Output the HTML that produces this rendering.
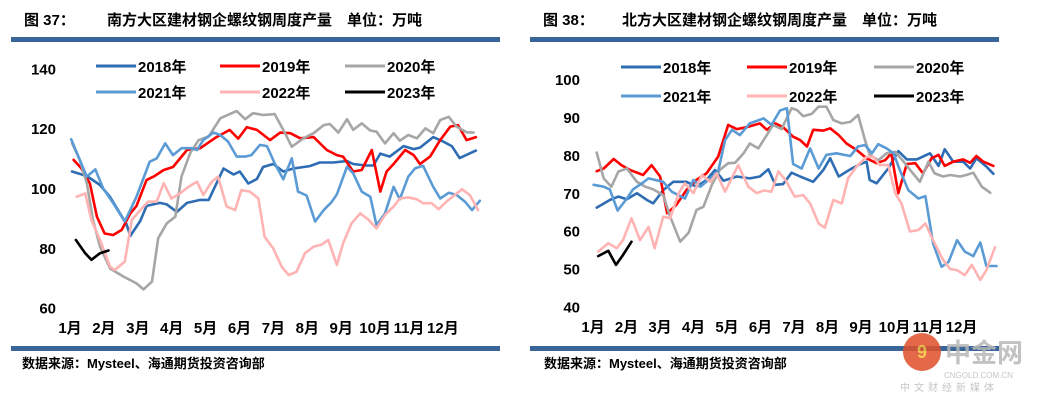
<!DOCTYPE html>
<html><head><meta charset="utf-8"><style>
body{margin:0;background:#fff;}
svg{display:block;font-family:"Liberation Sans","Noto Sans CJK SC",sans-serif;}
.t{font-weight:bold;font-size:15px;fill:#000;}
.ax{font-weight:bold;font-size:15px;fill:#000;}
.lg{font-weight:bold;font-size:15px;fill:#000;}
.ft{font-weight:bold;font-size:13px;fill:#000;}
</style></head><body>
<svg id="root" width="1055" height="402" viewBox="0 0 1055 402">
<rect x="0" y="0" width="1055" height="402" fill="#fff"/>
<text class="t" x="24" y="25">图 37：</text>
<text class="t" x="107" y="25">南方大区建材钢企螺纹钢周度产量　单位：万吨</text>
<rect x="11" y="37" width="489" height="5" fill="#3a6598"/>
<text class="t" x="543" y="25">图 38：</text>
<text class="t" x="622" y="25">北方大区建材钢企螺纹钢周度产量　单位：万吨</text>
<rect x="530" y="37" width="469" height="5" fill="#3a6598"/>
<rect x="11" y="346" width="489" height="5" fill="#3a6598"/>
<rect x="530" y="346" width="469" height="5" fill="#3a6598"/>
<text class="ft" x="22" y="368">数据来源：Mysteel、海通期货投资咨询部</text>
<text class="ft" x="544" y="368">数据来源：Mysteel、海通期货投资咨询部</text>
<g opacity="0.85">
<circle cx="922" cy="352" r="19" fill="#e0502a"/>
<text x="922" y="358" text-anchor="middle" font-size="18" font-weight="bold" fill="#f6c23a">9</text>
<text x="945" y="362" font-size="26" font-weight="bold" fill="#b8b8b8">中金网</text>
<text x="944" y="378" font-size="8" fill="#bbb">CNGOLD.COM.CN</text>
<text x="900" y="391" font-size="10" fill="#bbb" letter-spacing="4">中文财经新媒体</text>
</g>
<g id="left"></g>
<g id="right"></g>
</svg>
<script>
const seriesNames=["2018年","2019年","2020年","2021年","2022年","2023年"];
const seriesColors=["#2e6db4","#ff0000","#a6a6a6","#5b9bd5","#ffb3b3","#000000"];
const monthLabels=["1月","2月","3月","4月","5月","6月","7月","8月","9月","10月","11月","12月"];
const leftTicks=[60,80,100,120,140];
const rightTicks=[40,50,60,70,80,90,100];
// South (left) series: [week, value]
const south2018=[[1,105.5],[2.9,104],[4.6,101],[5.9,97],[8,88],[8.5,84],[9.8,89],[10.6,94],[12.3,95],[13.2,94.5],[14.5,92],[15.8,95],[17.5,96],[18.6,96],[20.5,106.5],[21.8,104.5],[22.6,105.5],[23.7,101.5],[24.8,103],[25.6,107],[26.9,108],[28.2,105.5],[29.5,106.5],[31.6,107.3],[32.9,108.5],[34.6,108.5],[36.4,109],[37.2,108],[38.9,107.5],[39.8,107.5],[40.7,111.5],[41.9,110.5],[43.7,114],[45,113],[45.8,113.5],[47.5,117],[48.8,115.5],[49.9,114],[50.9,110],[53,112.5]];
const south2019=[[1.2,109.4],[2.2,106.6],[3.3,101.5],[4.2,90.4],[5.2,84.8],[6.3,84.3],[7.4,86],[8.5,91.5],[9.3,94],[10.6,102.7],[11.5,103.8],[12.8,106],[14,107],[15.8,112.7],[17.5,113.3],[19.6,117],[21.3,119.4],[22.4,116.5],[23.5,120.3],[24.8,119.4],[26.5,116],[27.8,118.5],[29.1,118.3],[30.4,116.6],[32.1,117],[33.8,112.7],[35.1,111],[35.9,110.5],[37.2,105.5],[38.3,106],[39.6,112.7],[40.7,98.8],[41.5,105.5],[42.4,108],[43.9,112.7],[45,111],[45.8,108],[47.1,110.5],[48.4,116],[49.7,120.5],[50.7,121],[51.8,116],[53,117]];
const south2020=[[1,115],[2,109.4],[2.9,101.6],[3.7,89.3],[4.6,80.4],[5.9,73.1],[7.6,70.4],[9.3,68.1],[10.2,66.1],[11.3,68.7],[12.1,83.2],[13.2,88.2],[14.3,90.4],[15.1,103.8],[16.2,111.6],[17.3,116],[18.6,117.2],[20.1,123.3],[21.3,124.7],[22.2,125.7],[23.3,123],[24.3,125],[25.6,124.4],[27.1,124.7],[28.2,119.4],[29.3,113.8],[30.8,116.6],[32.1,118.3],[33.4,121],[34.2,121.4],[35.3,118.5],[36.4,123],[37.2,119.4],[38.3,121.6],[39.4,119.2],[40.2,118.8],[41.3,114.9],[42.4,118.3],[43.2,115.8],[44.3,117.7],[45.4,116.6],[46.5,119.9],[47.5,118.3],[48.4,122.7],[49.5,123.8],[50.5,120.5],[51.8,118.6],[52.7,118.5]];
const south2021=[[0.9,116.3],[2,109.4],[2.9,103.8],[4,106.2],[5,99.9],[6.3,94.9],[7.8,88.8],[9.3,97.1],[11,108.8],[11.9,109.9],[13,114.9],[14,111],[15.1,113.3],[16.4,113.3],[17.1,112.7],[17.9,116],[19.2,118.5],[20.1,117.7],[21.1,115.5],[22.2,110.5],[23.3,110.5],[24.1,111],[25.2,114.4],[26.1,114],[27.1,108.2],[28.2,102.9],[29.3,109.9],[30.1,98.8],[31.2,97.5],[32.3,88.8],[33.4,92.6],[34.4,95.2],[35.1,97.9],[36.4,107.1],[37.2,104.9],[38.3,98.8],[39.4,97.1],[40.2,87.6],[41.3,91.5],[42.4,100.4],[43.2,96.2],[44.3,103.8],[45.2,106.6],[46.2,107.4],[47.5,100.4],[48.4,96.5],[49.5,98.4],[50.5,97.7],[51.6,95.4],[52.5,92.6],[53.5,95.7]];
const south2022=[[1.6,97.1],[2.7,98.2],[3.5,89.3],[4.6,82.6],[5.9,73.7],[6.5,72.6],[7.8,75.4],[8.7,89.3],[9.8,92.6],[10.8,95.4],[11.9,95.4],[12.8,101.6],[13.8,96.5],[14.9,98.2],[16,100.4],[17.1,102.1],[17.9,97.7],[19,102.1],[19.8,103.8],[20.9,93.8],[22,92.6],[22.8,99.3],[23.9,98.8],[25,96.5],[25.8,83.7],[26.9,79.8],[28,73.7],[28.9,70.9],[29.9,72],[31,78.2],[32.1,80.4],[33.1,81],[34,82.6],[35.1,74.3],[35.9,81.5],[37,88.2],[38.1,91.5],[39.2,89.3],[40.2,86.5],[41.3,91],[42.4,93.8],[43.2,96.5],[44.3,96.9],[45.4,96.2],[46.2,94.9],[47.3,94.9],[48.2,92.9],[49.2,95.4],[50.3,97.7],[51.2,99.6],[52.2,97.7],[53.3,92.6]];
const south2023=[[1.5,82.6],[2.7,78.2],[3.5,76],[4.6,78.2],[5.7,79.1]];
// North (right) series
const north2018=[[1,66.1],[2.7,68.1],[3.8,69],[4.9,68.3],[6.2,69.9],[7.5,68.1],[8.3,67.2],[9.6,70.7],[10.9,72.9],[12.6,72.9],[13.9,71.6],[15.2,73.4],[16.3,76],[17.4,73.2],[19.1,74.3],[20.8,73.8],[22.1,74.3],[23.2,76.2],[24.1,72.1],[25.1,72.3],[26.2,75.3],[27.3,74.3],[29,72.9],[30.3,76],[31.2,79.1],[32.3,74.3],[33.8,76.2],[35.1,77.6],[35.9,78.2],[36.3,73.4],[37.2,72.5],[38.7,76.4],[40,81],[41.1,78.8],[42.4,78.8],[44.1,80.4],[45.2,77.1],[46,81.5],[47.1,78.2],[48.4,78.2],[49.3,76.4],[50.1,79.1],[51.4,76.9],[52.3,75]];
const north2019=[[1,75.7],[1.9,76.4],[3.2,78.9],[4.2,77.3],[5.3,76],[7,74.7],[8.1,77.3],[9.2,74.3],[10.1,64.6],[11.3,66.8],[12.6,70.7],[13.9,73.4],[15.2,75.1],[16.7,79.5],[18,87.9],[19.1,86.8],[20.4,87.3],[22.1,88.3],[23,86.6],[24.1,88.3],[25.1,87.3],[26.4,84.8],[27.3,83.9],[28.2,82.2],[29,86.6],[30.3,86.4],[31.2,87],[32.3,85.2],[33.3,83],[34.6,81.3],[35.9,79.1],[37.2,77.8],[38.3,78.6],[39.1,80.4],[40,69.9],[41.1,77.6],[42.2,77.8],[43.2,75.1],[44.3,79.1],[45.2,80],[46,77.1],[47.1,78.2],[48.4,78.8],[49.3,77.9],[50.1,79.7],[51,78.2],[52.3,77.1]];
const north2020=[[1,80.6],[1.9,73.8],[2.9,71.6],[3.8,75.6],[4.9,76.4],[6.2,72.9],[7.3,71.6],[8.3,70.9],[9.6,69.4],[10.5,63.7],[11.8,57.1],[12.9,59.5],[13.9,65.5],[14.8,66.3],[15.9,72.1],[16.9,76],[18,77.8],[18.9,77.9],[20,80.4],[20.8,83],[21.9,81.7],[23,85.2],[23.8,87.9],[24.9,86.8],[26.2,92.3],[26.9,91.8],[27.7,90.2],[28.8,90.8],[29.7,92.7],[30.7,92.7],[31.6,89.2],[32.7,88.3],[33.8,88.7],[34.8,90.5],[35.7,83.9],[36.3,80],[37.4,78.6],[38.5,80.4],[39.6,80.8],[40.7,78.2],[41.7,75.6],[42.8,72.9],[43.9,78.2],[44.7,75.1],[45.8,74.3],[46.7,74.7],[48,74.3],[48.8,74.7],[49.7,75.3],[50.8,71.6],[51.9,70]];
const north2021=[[0.6,72.1],[1.9,71.6],[2.7,70.9],[3.7,65.3],[4.9,68.5],[5.7,70.9],[7,72.7],[7.7,73.8],[9.6,72.9],[10.7,70.3],[12.4,68.5],[13.5,73.4],[14.4,71.6],[15.7,73.8],[16.7,75.6],[17.6,83.9],[18.5,86.6],[19.5,85.2],[20.8,88.3],[22.6,89.6],[23.6,87.9],[24.7,91.7],[25.6,92.3],[26.4,77.6],[27.5,76.4],[28.6,81.7],[29.7,76.4],[30.7,80],[32,80.4],[33.8,79.7],[34.8,82.2],[35.7,82.6],[36.6,80.4],[37.4,82.8],[38.5,81.7],[39.4,80.4],[40.2,76],[41.3,70.7],[42.6,68.5],[43.5,69.1],[44.5,56.6],[45.6,50.5],[46.5,51.8],[47.6,57.5],[48.6,54.5],[49.7,53.3],[50.6,56.9],[51.4,50.7],[52.7,50.7]];
const north2022=[[1.2,54.5],[2.5,56.7],[3.6,55.4],[4.4,57.5],[5.5,63.3],[6.6,57.5],[7.7,61],[8.5,55.4],[9.6,63.7],[10.5,63.3],[11.6,69.9],[12.4,72.5],[13.5,69.9],[14.6,74.7],[15.7,72.9],[16.5,75.1],[17.6,70.3],[19.3,77.3],[20.6,71.6],[21.7,69.9],[22.6,70.6],[23.6,70.3],[24.5,75.6],[25.4,73.4],[26.6,69],[27.7,69.4],[28.6,67.2],[29.7,61.9],[30.5,60.8],[31.6,68.1],[32.7,67.2],[33.5,73.8],[34.6,76.9],[35.9,79.5],[36.8,79.4],[37.6,77.3],[38.7,77.3],[39.6,69.9],[40.4,67.2],[41.5,59.8],[42.6,60.2],[43.5,61.9],[44.5,57.5],[45.8,52.3],[46.7,49.9],[47.6,49.6],[48.6,48.3],[49.5,51],[50.6,47],[51.4,49.6],[52.5,55.6]];
const north2023=[[1.2,53.3],[2.5,54.7],[3.5,51],[4.4,53.6],[5.5,57.1]];

const NS="http://www.w3.org/2000/svg";
function mk(tag,attrs,parent){const e=document.createElementNS(NS,tag);for(const k in attrs)e.setAttribute(k,attrs[k]);parent.appendChild(e);return e;}

function drawChart(gid,prefix,cfg,series,ticks){
  const g=document.getElementById(gid);
  const xs=w=>cfg.x0+(w-1)*cfg.dx;
  const ys=v=>cfg.yTop+(cfg.vTop-v)*cfg.dy;
  ticks.forEach(t=>{
    const e=mk('text',{x:cfg.tickX,y:ys(t)+6,'text-anchor':'end',class:'ax'},g);
    e.textContent=t;
    
    
  });
  monthLabels.forEach((m,i)=>{
    const e=mk('text',{x:cfg.m0+i*cfg.mdx,y:cfg.my,'text-anchor':'middle',class:'ax'},g);
    e.textContent=m;
    
    
  });
  series.forEach((s,i)=>{
    const d=s.map((p,j)=>(j?'L':'M')+xs(p[0]).toFixed(1)+' '+ys(p[1]).toFixed(1)).join(' ');
    const p=mk('path',{d:d,fill:'none',stroke:seriesColors[i],'stroke-width':2.6,'stroke-linejoin':'round','stroke-linecap':'round'},g);
    
    
  });
  seriesNames.forEach((n,i)=>{
    const col=i%3,row=Math.floor(i/3);
    const lx=cfg.lgX[col],ly=cfg.lgY[row];
    const l=mk('line',{x1:lx,x2:lx+40,y1:ly,y2:ly,stroke:seriesColors[i],'stroke-width':3},g);
    
    
    const t=mk('text',{x:lx+42,y:ly+6,class:'lg'},g);
    t.textContent=n;
    
    
  });
}
drawChart('left','south',{x0:72,dx:7.767,yTop:68.3,vTop:140,dy:2.992,tickX:56,m0:70,mdx:33.9,my:333,lgX:[96,220,345],lgY:[66,92]},
  [south2018,south2019,south2020,south2021,south2022,south2023],leftTicks);
drawChart('right','north',{x0:596.7,dx:7.733,yTop:79,vTop:100,dy:3.793,tickX:580,m0:593,mdx:33.5,my:332,lgX:[621,747,874],lgY:[67,96]},
  [north2018,north2019,north2020,north2021,north2022,north2023],rightTicks);
</script>
</body></html>
